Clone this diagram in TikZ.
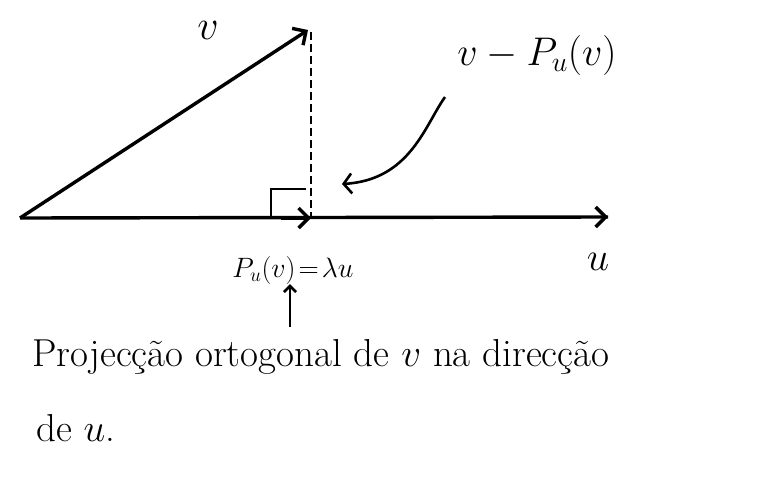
\RequirePackage{fix-cm}
\documentclass[tikz,border=0pt]{standalone}
\usetikzlibrary{arrows.meta}
\begin{document}
\begin{tikzpicture}[x=1pt,y=-1pt,
  vec/.style={line width=3.4pt,-{Straight Barb[length=10pt,width=20pt,line width=3.4pt]}},
  hand/.style={line width=2.6pt},
  lbl/.style={inner sep=0pt},
  big/.style={font=\fontsize{40}{44}\selectfont},
  txt/.style={font=\fontsize{39}{44}\selectfont}]
\useasboundingbox (0,0) rectangle (769,485);
\coordinate (O) at (20,218);
\coordinate (V) at (308,30);
\coordinate (U) at (608,217);
\coordinate (P) at (311,218);
\coordinate (Ptop) at (311,32);
\coordinate (C0) at (445,97);
% vectors
\draw[line width=3.4pt] (O) -- (U);
\draw[vec] (O) -- (V);
\draw[vec] ([xshift=-2pt]U) -- (U);
\draw[vec] ([xshift=-30pt]P) -- (P);
\draw[line width=2.6pt,dash pattern=on 8pt off 4pt] (Ptop) -- (P);
% right angle mark
\draw[hand] (271,216) -- (271,189) -- (306,189);
% labels
\node[lbl,font=\fontsize{42}{46}\selectfont] (lv) at (208,30) {$v$};
\node[lbl,big] (lvp) at (537,55) {$v-P_u(v)$};
\node[lbl,font=\fontsize{28}{32}\selectfont] (lpu) at (293,270) {$P_u(v)\!=\!\lambda u$};
\node[lbl,big] (lu) at (598,262) {$u$};
\node[lbl,txt,anchor=west] (t1) at (32,357) {Projecção ortogonal de $v$ na direcção};
\node[lbl,txt,anchor=west] (t2) at (36,428) {de $u$.};
% curved pointer to dashed line
\draw[hand,-{Straight Barb[length=8pt,width=20pt,line width=2.6pt]}] (C0) .. controls (425,125) and (410,180) .. (342,184);
% pointer from text to formula
\draw[hand,-{Straight Barb[length=6pt,width=12pt,line width=2.6pt]}] (290,327) -- (lpu.south -| 290,0);
\end{tikzpicture}
\end{document}
